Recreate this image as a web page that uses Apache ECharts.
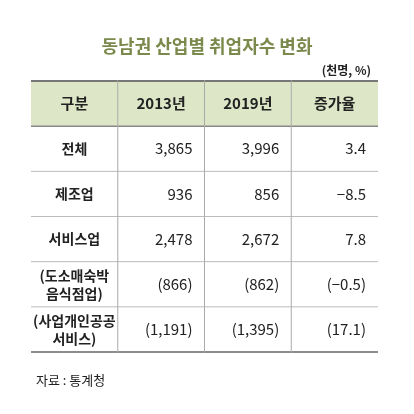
<!DOCTYPE html><html><head><meta charset="utf-8"><script src="https://cdn.jsdelivr.net/npm/echarts@6/dist/echarts.min.js"></script></head><body style="margin:0"><div id="c" style="width:414px;height:414px"></div><script>
const headers=['구분','2013년','2019년','증가율'];
const rowLabels=['전체','제조업','서비스업','(도소매숙박\n음식점업)','(사업개인공공\n서비스)'];
const v2013=['3,865','936','2,478','(866)','(1,191)'];
const v2019=['3,996','856','2,672','(862)','(1,395)'];
const rate=['3.4','−8.5','7.8','(−0.5)','(17.1)'];
const rows=['h'].concat(rowLabels.map((_,i)=>'r'+i));
const data=[];
headers.forEach((h,c)=>data.push([c,0,h]));
rowLabels.forEach((l,i)=>{data.push([0,i+1,l]);data.push([1,i+1,v2013[i]]);data.push([2,i+1,v2019[i]]);data.push([3,i+1,rate[i]]);});
const F='"Noto Sans CJK KR","Noto Sans",sans-serif';
const chart=echarts.init(document.getElementById('c'));
chart.setOption({
 title:[{text:'동남권 산업별 취업자수 변화',left:'center',top:32,textStyle:{color:'#7b8a4c',fontSize:18,fontWeight:'bold',fontFamily:F}},
  {text:'(천명, %)',right:38,top:59,textStyle:{color:'#222',fontSize:12,fontWeight:'bold',fontFamily:F}},
  {text:'자료 : 통계청',left:31,top:369,textStyle:{color:'#222',fontSize:13,fontWeight:'normal',fontFamily:F}}],
 grid:{left:31,right:36,top:81,bottom:62},
 xAxis:{type:'category',data:headers,show:false},
 yAxis:{type:'category',data:rows,inverse:true,show:false},
 series:[{type:'custom',data:data,renderItem:(p,api)=>{
  const c=api.value(0),r=api.value(1);const txt=data[p.dataIndex][2];
  const ctr=api.coord([c,r]);const sz=api.size([1,1]);
  const x0=ctr[0]-sz[0]/2,y0=ctr[1]-sz[1]/2,w=sz[0],h=sz[1];
  const ch=[];
  if(r===0)ch.push({type:'rect',shape:{x:x0,y:y0,width:w,height:h},style:{fill:'#dde6c6'}});
  ch.push({type:'line',shape:{x1:x0,y1:y0+h,x2:x0+w,y2:y0+h},style:{stroke:r===0?'#888':(r===5?'#666':'#bbb'),lineWidth:r===0||r===5?1.5:1}});
  if(r===0)ch.push({type:'line',shape:{x1:x0,y1:y0,x2:x0+w,y2:y0},style:{stroke:'#777',lineWidth:2}});
  if(c>0)ch.push({type:'line',shape:{x1:x0,y1:y0,x2:x0,y2:y0+h},style:{stroke:'#aaa',lineWidth:1}});
  const bold=r===0||c===0;
  const right=r>0&&c>0;
  ch.push({type:'text',style:{text:txt,x:right?x0+w-12:ctr[0],y:ctr[1],align:right?'right':'center',verticalAlign:'middle',fontSize:r===0?15:(c===0?14:15),fontWeight:bold?'bold':'normal',fontFamily:F,fill:'#222',lineHeight:18}});
  return {type:'group',children:ch};
 }}]
});
</script></body></html>
